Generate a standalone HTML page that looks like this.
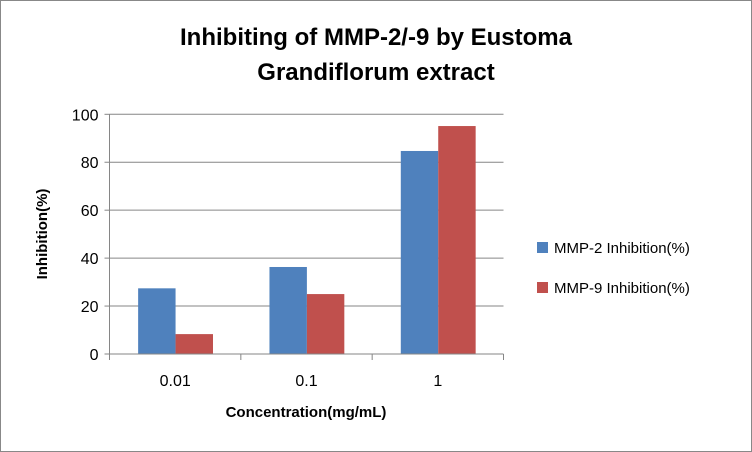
<!DOCTYPE html>
<html><head><meta charset="utf-8"><style>
body{margin:0;background:#fff;font-family:"Liberation Sans",sans-serif}
svg{display:block}
</style></head><body>
<svg id="chart" width="752" height="452" font-family="Liberation Sans, sans-serif">
<rect x="0.5" y="0.5" width="751" height="451" fill="#fff" stroke="#888"/>
<text x="376" y="45" text-anchor="middle" font-size="24" font-weight="bold" fill="#000">Inhibiting of MMP-2/-9 by Eustoma</text>
<text x="376" y="80" text-anchor="middle" font-size="24" font-weight="bold" fill="#000">Grandiflorum extract</text>
<g id="grid"></g><g id="bars"></g><g id="axes"></g>
<text transform="translate(47,234) rotate(-90)" text-anchor="middle" font-size="15" font-weight="bold">Inhibition(%)</text>
<text x="306" y="417" text-anchor="middle" font-size="15" font-weight="bold">Concentration(mg/mL)</text>
<g>
<rect x="537" y="242" width="11" height="11" fill="#4f81bd"/>
<text x="554" y="253" font-size="15">MMP-2 Inhibition(%)</text>
<rect x="537" y="282" width="11" height="11" fill="#c0504d"/>
<text x="554" y="293" font-size="15">MMP-9 Inhibition(%)</text>
</g>
</svg>
<script>
const categories=["0.01","0.1","1"];
const mmp2=[27.4,36.3,84.7];
const mmp9=[8.3,25.0,95.1];
const yTicks=[0,20,40,60,80,100];
const NS="http://www.w3.org/2000/svg";
const x0=109.5,x1=503.5,y0=354,y1=114.3,yMax=100;
const y=v=>y0-(v/yMax)*(y0-y1);
const cw=(x1-x0)/categories.length;
const xc=i=>x0+cw*i;
function mk(t,a,p){const e=document.createElementNS(NS,t);for(const k in a)e.setAttribute(k,a[k]);p.appendChild(e);return e;}
const grid=document.getElementById('grid'),bars=document.getElementById('bars'),axes=document.getElementById('axes');
yTicks.forEach(v=>{
 if(v>0){const l=mk('line',{x1:x0,x2:x1,y1:y(v),y2:y(v),stroke:'#868686'},grid);
 
 }
 const tk=mk('line',{x1:x0-5,x2:x0,y1:y(v),y2:y(v),stroke:'#868686'},axes);
 
 
 const t=mk('text',{x:x0-11,y:y(v)+6,'text-anchor':'end','font-size':'16'},axes);t.textContent=v;
 
 
});
const bw=cw*0.285;
categories.forEach((c,i)=>{
 const s=xc(i)+cw*0.218;
 const b1=mk('rect',{x:s,y:y(mmp2[i]),width:bw,height:y0-y(mmp2[i]),fill:'#4f81bd'},bars);
 
 
 const b2=mk('rect',{x:s+bw,y:y(mmp9[i]),width:bw,height:y0-y(mmp9[i]),fill:'#c0504d'},bars);
 
 
 const t=mk('text',{x:xc(i)+cw/2,y:386,'text-anchor':'middle','font-size':'16'},axes);t.textContent=c;
 
 
});
for(let i=0;i<=categories.length;i++){const l=mk('line',{x1:xc(i),x2:xc(i),y1:y0,y2:y0+6,stroke:'#868686'},axes);
 
 }
const ya=mk('line',{x1:x0,x2:x0,y1:y1,y2:y0,stroke:'#868686'},axes);


const xa=mk('line',{x1:x0,x2:x1,y1:y0,y2:y0,stroke:'#868686'},axes);


</script>
</body></html>
